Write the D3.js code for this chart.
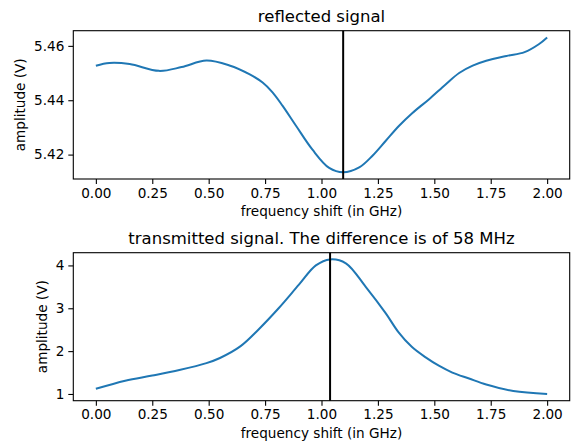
<!DOCTYPE html>
<html>
<head>
<meta charset="utf-8">
<script src="https://d3js.org/d3.v7.min.js"></script>
<style>
  body { margin: 0; background: #fff; }
  text { font-family: "DejaVu Sans", sans-serif; fill: #000; }
</style>
</head>
<body>
<svg id="chart" width="576" height="445"></svg>
<script>
// frequency shift (GHz) and amplitude (V)
var reflFreq = [0, 0.06, 0.15, 0.28, 0.38, 0.49, 0.592, 0.68, 0.739, 0.783, 0.827, 0.887, 0.96,
                1.034, 1.096, 1.167, 1.226, 1.285, 1.344, 1.403, 1.477, 1.55, 1.61, 1.67, 1.73,
                1.82, 1.9, 1.963, 2.0];
var reflAmp = [5.4527, 5.4537, 5.4533, 5.4508, 5.4522, 5.4546, 5.4528, 5.4496, 5.4465, 5.4429,
               5.4380, 5.4306, 5.4218, 5.4151, 5.4135, 5.4153, 5.4196, 5.4251, 5.4306, 5.4353,
               5.4404, 5.4458, 5.4500, 5.4527, 5.4545, 5.4563, 5.4577, 5.4606, 5.4631];
var transFreq = [0, 0.13, 0.25, 0.37, 0.49, 0.55, 0.64, 0.72, 0.81, 0.9, 0.975, 1.038, 1.108,
                 1.196, 1.285, 1.34, 1.40, 1.46, 1.52, 1.58, 1.654, 1.73, 1.85, 2.0];
var transAmp = [1.12, 1.31, 1.43, 1.56, 1.72, 1.84, 2.11, 2.50, 3.00, 3.55, 4.00, 4.14, 4.05,
                3.50, 2.88, 2.45, 2.10, 1.86, 1.66, 1.50, 1.36, 1.22, 1.07, 1.0];
var reflPeak = 1.096;
var transPeak = 1.038;
var xTicks = [0, 0.25, 0.5, 0.75, 1.0, 1.25, 1.5, 1.75, 2.0];
var reflTicks = [5.42, 5.44, 5.46];
var transTicks = [1, 2, 3, 4];

var svg = d3.select("#chart");

// pad the data range by 5% like matplotlib does
function padded(vals) {
  var ext = d3.extent(vals);
  var m = (ext[1] - ext[0]) * 0.05;
  return [ext[0] - m, ext[1] + m];
}

function drawPanel(opts) {
  var x = d3.scaleLinear().domain(padded(opts.xs)).range([opts.left, opts.right]);
  var y = d3.scaleLinear().domain(padded(opts.ys)).range([opts.bottom, opts.top]);
  var g = svg.append("g");

  var line = d3.line()
    .x(function(d) { return x(d[0]); })
    .y(function(d) { return y(d[1]); })
    .curve(d3.curveCatmullRom.alpha(0.5));

  g.append("path")
    .datum(d3.zip(opts.xs, opts.ys))
    .attr("fill", "none")
    .attr("stroke", "#1f77b4")
    .attr("stroke-width", 2)
    .attr("d", line);

  g.append("line")
    .attr("x1", x(opts.peak)).attr("x2", x(opts.peak))
    .attr("y1", opts.top).attr("y2", opts.bottom)
    .attr("stroke", "#000").attr("stroke-width", 2);

  var xAxis = g.append("g")
    .attr("transform", "translate(0," + opts.bottom + ")")
    .call(d3.axisBottom(x).tickValues(xTicks).tickFormat(d3.format(".2f"))
      .tickSizeInner(5).tickSizeOuter(0).tickPadding(4));
  var yAxis = g.append("g")
    .attr("transform", "translate(" + opts.left + ",0)")
    .call(d3.axisLeft(y).tickValues(opts.yTicks).tickFormat(opts.yFormat)
      .tickSizeInner(5).tickSizeOuter(0).tickPadding(4));
  [xAxis, yAxis].forEach(function(a) {
    a.select(".domain").remove();
    a.selectAll("line").attr("stroke", "#000").attr("stroke-width", 1.1);
    a.selectAll("text").style("font-size", "13.6px").attr("fill", "#000");
  });

  g.append("rect")
    .attr("x", opts.left).attr("y", opts.top)
    .attr("width", opts.right - opts.left).attr("height", opts.bottom - opts.top)
    .attr("fill", "none").attr("stroke", "#000").attr("stroke-width", 1.1);

  g.append("text")
    .attr("x", (opts.left + opts.right) / 2).attr("y", opts.top - 9)
    .attr("text-anchor", "middle").style("font-size", "16.5px")
    .text(opts.title);

  g.append("text")
    .attr("x", (opts.left + opts.right) / 2).attr("y", opts.bottom + 37)
    .attr("text-anchor", "middle").style("font-size", "13.6px")
    .text("frequency shift (in GHz)");

  g.append("text")
    .attr("transform", "translate(" + opts.ylabelX + "," + ((opts.top + opts.bottom) / 2) + ") rotate(-90)")
    .attr("text-anchor", "middle").attr("dy", "0.35em").style("font-size", "13.6px")
    .text("amplitude (V)");
}

drawPanel({
  xs: reflFreq, ys: reflAmp, peak: reflPeak,
  left: 73.3, right: 569.7, top: 30.7, bottom: 179,
  yTicks: reflTicks, yFormat: d3.format(".2f"),
  title: "reflected signal", ylabelX: 20
});

drawPanel({
  xs: transFreq, ys: transAmp, peak: transPeak,
  left: 73.3, right: 569.7, top: 252.7, bottom: 400.7,
  yTicks: transTicks, yFormat: d3.format("d"),
  title: "transmitted signal. The difference is of 58 MHz", ylabelX: 42.7
});
</script>
</body>
</html>
